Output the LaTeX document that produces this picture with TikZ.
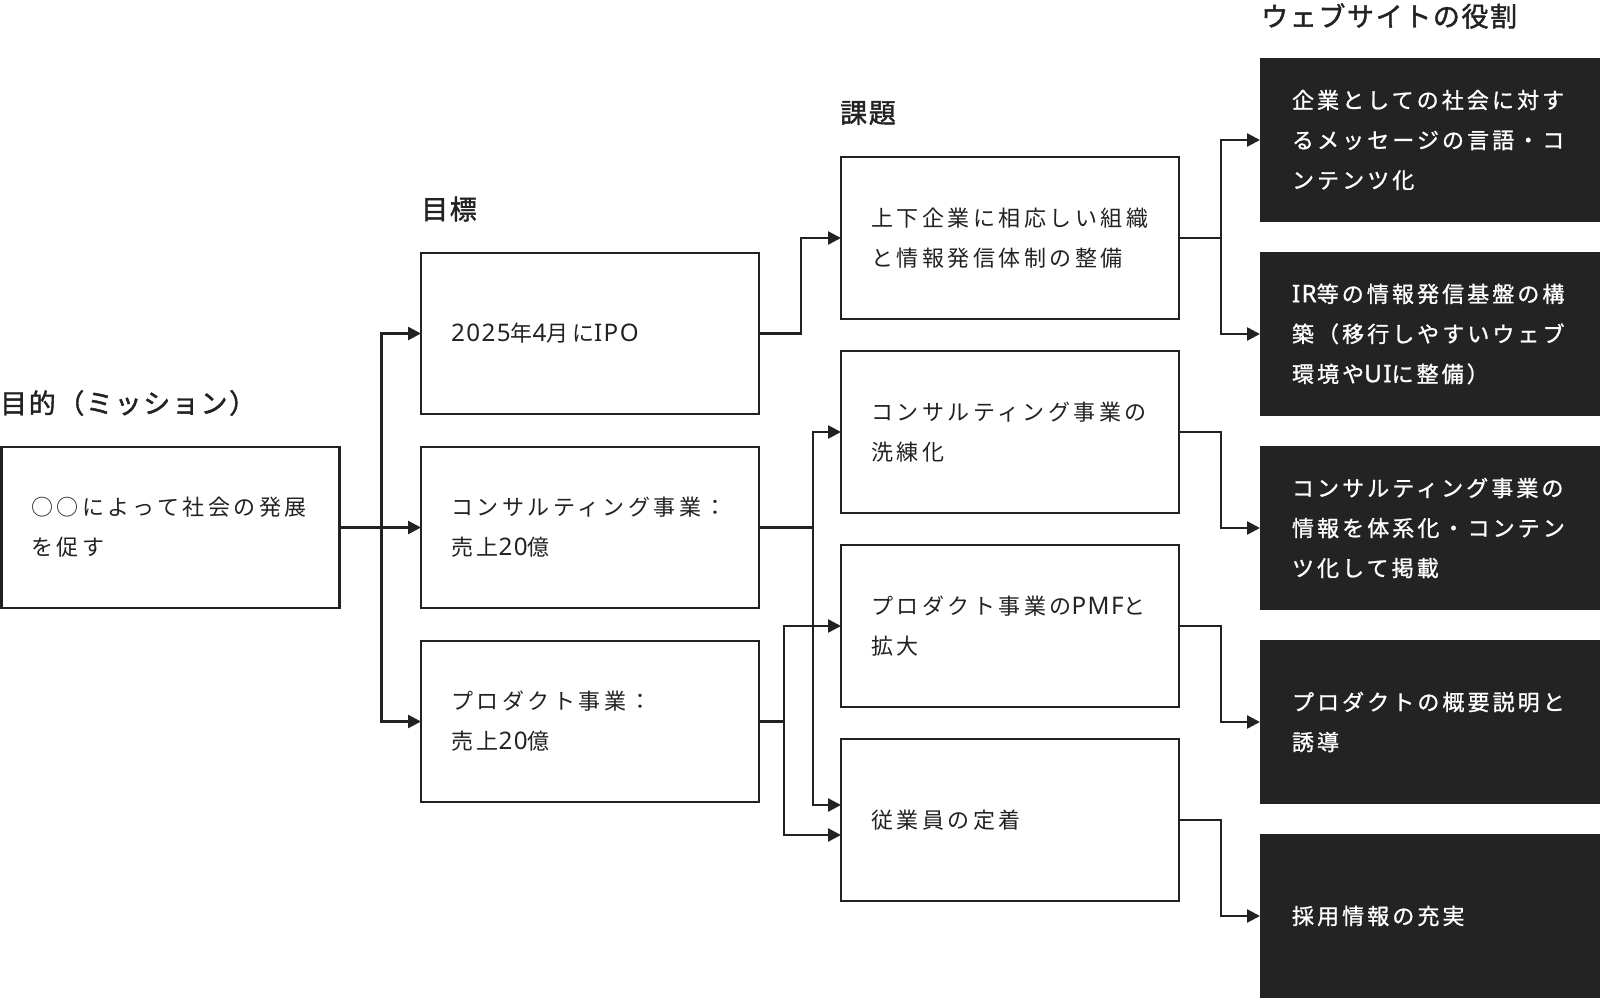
\documentclass[tikz,border=0pt]{standalone}
\usepackage{fontspec}
\setmainfont{Noto Sans CJK JP}
\newfontfamily\bodyfont[LetterSpace=16]{Noto Sans CJK JP}
\newfontfamily\bodylatin[LetterSpace=6,Scale=1.1]{Noto Sans}
\newfontfamily\darkfont[LetterSpace=14,FakeBold=1]{Noto Sans CJK JP}
\newfontfamily\darklatin[LetterSpace=6,FakeBold=1,Scale=1.1]{Noto Sans}
\newfontfamily\headfont[LetterSpace=6,FakeBold=1.5]{Noto Sans CJK JP}
\newcommand{\wl}[1]{{\bodylatin #1}}
\newcommand{\dl}[1]{{\darklatin #1}}
\usetikzlibrary{arrows.meta}
\definecolor{ink}{HTML}{222222}
\definecolor{darkbg}{HTML}{232323}
\begin{document}
\begin{tikzpicture}[x=1pt,y=-1pt,
  wbox/.style={draw=ink,line width=2.5pt,outer sep=0pt,fill=white,anchor=north west,minimum width=338pt,minimum height=161pt,inner xsep=30pt,inner ysep=0pt,text width=278pt,align=left,font=\bodyfont\fontsize{22}{40}\selectfont,text=ink},
  dbox/.style={fill=darkbg,outer sep=0pt,anchor=north west,minimum width=345pt,minimum height=164pt,inner xsep=32pt,inner ysep=0pt,text width=281pt,align=left,font=\darkfont\fontsize{22}{40}\selectfont,text=white},
  head/.style={anchor=west,inner sep=0pt,font=\headfont\fontsize{27}{30}\selectfont,text=ink},
  arr/.style={draw=ink,line width=2.5pt,-{Triangle[length=13pt,width=13pt]}},
]
\useasboundingbox[fill=white] (0,0) rectangle (1600,998);

% headings
\node[head] (hm) at (0,403) {目的（ミッション）};
\node[head] (ho) at (421,209) {目標};
\node[head] (hi) at (840,113) {課題};
\node[head] (hr) at (1261,16) {ウェブサイトの役割};

% mission
\node[wbox] (m) at (1.3,447) {○○によって社会の発展\\を促す};

% objectives
\node[wbox] (o1) at (421,253) {\wl{2025}年\wl{4}月に\wl{IPO}};
\node[wbox] (o2) at (421,447) {コンサルティング事業：\\売上\wl{20}億};
\node[wbox] (o3) at (421,641) {プロダクト事業：\\売上\wl{20}億};

% issues
\node[wbox,minimum height=162pt] (i1) at (841,157) {上下企業に相応しい組織\\と情報発信体制の整備};
\node[wbox,minimum height=162pt] (i2) at (841,351) {コンサルティング事業の\\洗練化};
\node[wbox,minimum height=162pt] (i3) at (841,545) {プロダクト事業の\wl{PMF}と\\拡大};
\node[wbox,minimum height=162pt] (i4) at (841,739) {従業員の定着};

% roles
\node[dbox] (r1) at (1260,58) {企業としての社会に対す\\るメッセージの言語・コ\\ンテンツ化};
\node[dbox] (r2) at (1260,252) {\dl{IR}等の情報発信基盤の構\\築（移行しやすいウェブ\\環境や\dl{UI}に整備）};
\node[dbox] (r3) at (1260,446) {コンサルティング事業の\\情報を体系化・コンテン\\ツ化して掲載};
\node[dbox] (r4) at (1260,640) {プロダクトの概要説明と\\誘導};
\node[dbox] (r5) at (1260,834) {採用情報の充実};

% connectors mission -> objectives
\draw[arr] (m.east) -- ++(42,0) |- (o1.west);
\draw[arr] (m.east) -- (o2.west);
\draw[arr] (m.east) -- ++(42,0) |- (o3.west);

% objectives -> issues
\draw[arr] (o1.east) -- ++(42,0) |- (i1.west);
\draw[arr] (o2.east) -- ++(54,0) |- (i2.west);
\draw[arr] (o2.east) -- ++(54,0) |- ([yshift=15pt]i4.west);
\draw[arr] (o3.east) -- ++(25,0) |- (i3.west);
\draw[arr] (o3.east) -- ++(25,0) |- ([yshift=-15pt]i4.west);

% issues -> roles
\draw[arr] (i1.east) -- ++(42,0) |- (r1.west);
\draw[arr] (i1.east) -- ++(42,0) |- (r2.west);
\draw[arr] (i2.east) -- ++(42,0) |- (r3.west);
\draw[arr] (i3.east) -- ++(42,0) |- (r4.west);
\draw[arr] (i4.east) -- ++(42,0) |- (r5.west);
\end{tikzpicture}
\end{document}
